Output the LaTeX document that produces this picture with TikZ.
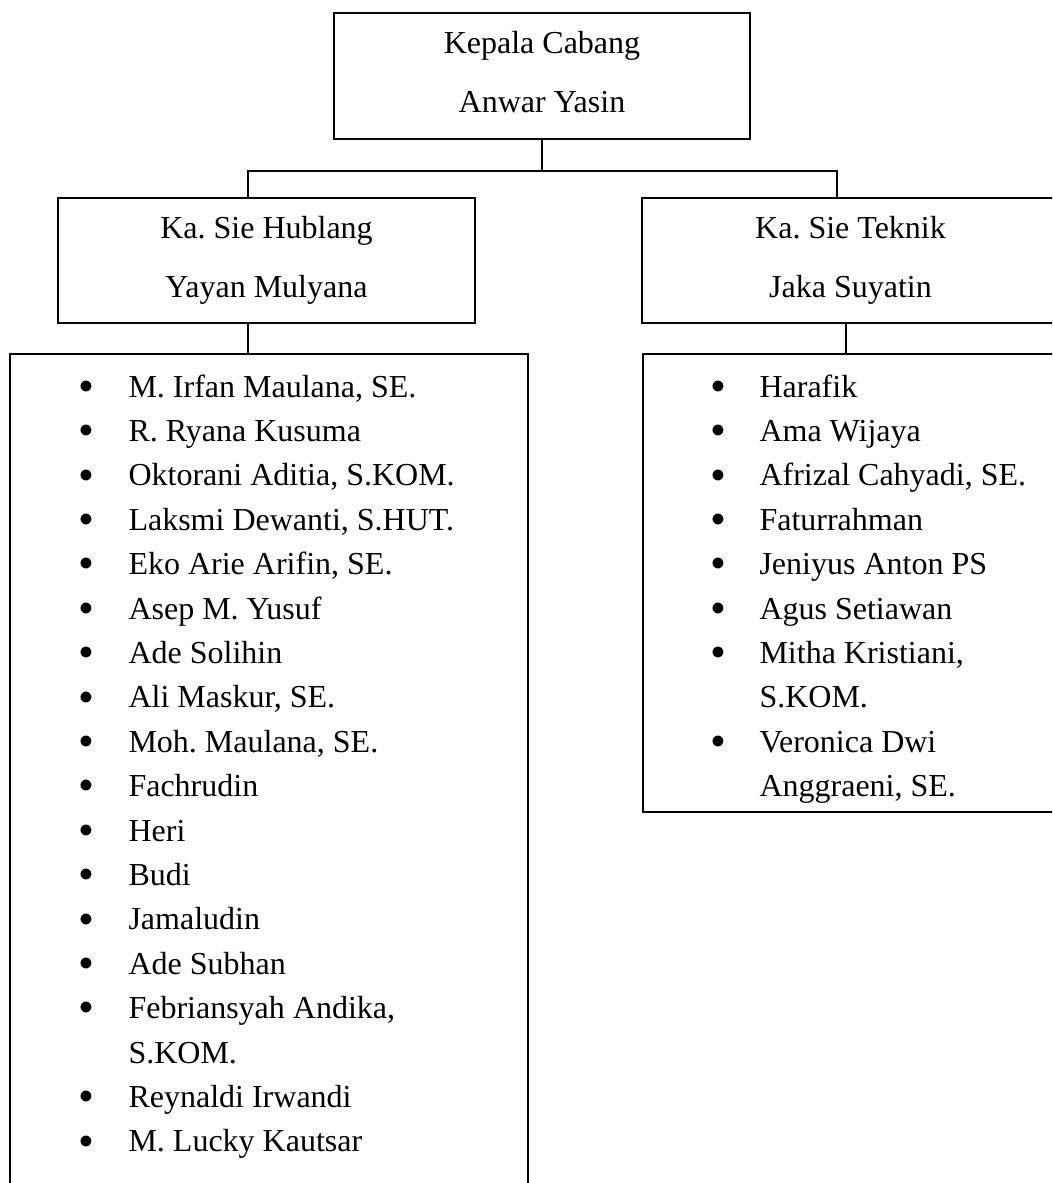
\documentclass[tikz,border=0pt]{standalone}
\usepackage{fontspec}
\setmainfont{Liberation Serif}
\usetikzlibrary{calc}
\frenchspacing
\newcommand\boxfont{\fontsize{12pt}{22.3pt}\selectfont}
\newcommand\listfont{\fontsize{12pt}{14pt}\selectfont}
\newcommand\lastdp{\rule[-3pt]{0pt}{3pt}}
\tikzset{
  every picture/.style={line cap=rect, line join=miter},
  orgbox/.style={draw, line width=0.8pt, inner sep=0pt, align=center, font=\boxfont},
  staffbox/.style={draw, line width=0.8pt, inner sep=0pt, anchor=north west},
  wire/.style={line width=0.7pt},
  staffname/.style={anchor=base west, inner sep=0pt, font=\listfont},
  bulletmark/.style={anchor=center, inner sep=0pt, font=\fontsize{17pt}{17pt}\selectfont},
}
\begin{document}
\begin{tikzpicture}[x=0.375pt, y=-0.375pt]
  \path[use as bounding box, clip] (0,0) rectangle (1052,1183);
  % heads
  \node[orgbox, minimum width=156pt, minimum height=47.25pt] (kepala) at (542,76) {Kepala Cabang\\Anwar Yasin\lastdp};
  \node[orgbox, minimum width=156.4pt, minimum height=46.9pt] (hublang) at (266.5,260.5) {Ka. Sie Hublang\\Yayan Mulyana};
  \node[orgbox, minimum width=156.4pt, minimum height=46.9pt] (teknik) at (850.5,260.5) {Ka. Sie Teknik\\Jaka Suyatin};
  % staff lists (both run past the page edge)
  \node[staffbox, minimum width=194.25pt, minimum height=337.5pt] (hublist) at (9,353) {};
  \node[staffbox, minimum width=194.25pt, minimum height=171.75pt] (teklist) at (642,353) {};
  % connectors
  \coordinate (busL) at (248,171);
  \coordinate (busR) at (837,171);
  \coordinate (dropR) at (846,0);
  \draw[wire] (kepala.south) -- (kepala.south |- busL);
  \draw[wire] (hublang.north -| busL) -- (busL) -- (busR) -- (teknik.north -| busR);
  \draw[wire] (hublang.south -| busL) -- (hublist.north -| busL);
  \draw[wire] (teknik.south -| dropR) -- (teklist.north -| dropR);
  % Hublang staff: row/bullet/name
  \foreach \r/\b/\name in {0/1/{M. Irfan Maulana, SE.}, 1/1/R. Ryana Kusuma, 2/1/{Oktorani Aditia, S.KOM.},
                           3/1/{Laksmi Dewanti, S.HUT.}, 4/1/{Eko Arie Arifin, SE.}, 5/1/Asep M. Yusuf,
                           6/1/Ade Solihin, 7/1/{Ali Maskur, SE.}, 8/1/{Moh. Maulana, SE.}, 9/1/Fachrudin,
                           10/1/Heri, 11/1/Budi, 12/1/Jamaludin, 13/1/Ade Subhan, 14/1/{Febriansyah Andika,},
                           15/0/S.KOM., 16/1/Reynaldi Irwandi, 17/1/M. Lucky Kautsar}{
    \ifnum\b=1 \node[bulletmark] (hb\r) at (86,{391+44.4*\r}) {\textbullet};\fi
    \node[staffname] (h\r) at (128,{397+44.4*\r}) {\name};
  }
  % Teknik staff
  \foreach \r/\b/\name in {0/1/Harafik, 1/1/Ama Wijaya, 2/1/{Afrizal Cahyadi, SE.}, 3/1/Faturrahman,
                           4/1/Jeniyus Anton PS, 5/1/Agus Setiawan, 6/1/{Mitha Kristiani,}, 7/0/S.KOM.,
                           8/1/Veronica Dwi, 9/0/{Anggraeni, SE.}}{
    \ifnum\b=1 \node[bulletmark] (tb\r) at (718,{391+44.4*\r}) {\textbullet};\fi
    \node[staffname] (t\r) at (759,{397+44.4*\r}) {\name};
  }
\end{tikzpicture}
\end{document}
